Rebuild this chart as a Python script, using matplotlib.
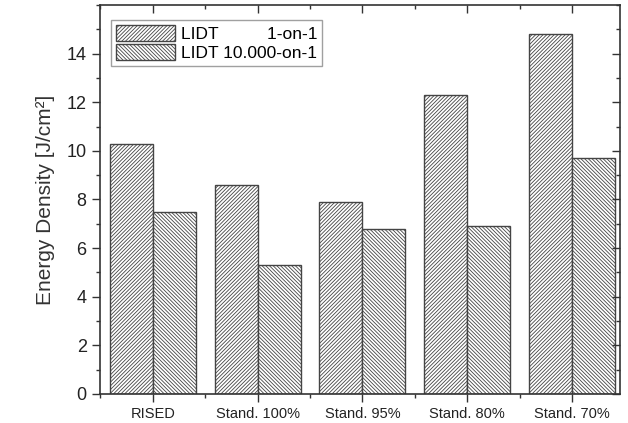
import numpy as np
import matplotlib
matplotlib.use('Agg')
import matplotlib.pyplot as plt
from matplotlib.ticker import MultipleLocator

plt.rcParams['font.family'] = ['Liberation Sans', 'DejaVu Sans']
plt.rcParams['hatch.color'] = '#9a9a9a'
plt.rcParams['hatch.linewidth'] = 0.6

categories = ['RISED', 'Stand. 100%', 'Stand. 95%', 'Stand. 80%', 'Stand. 70%']
lidt_1on1 = [10.3, 8.6, 7.9, 12.3, 14.8]
lidt_10000on1 = [7.5, 5.3, 6.8, 6.9, 9.7]

fig = plt.figure(figsize=(6.28, 4.23), dpi=100)
ax = fig.add_axes([0.159, 0.069, 0.828, 0.919])

x = np.arange(len(categories))
w = 0.41
edge = '#444444'
ax.bar(x - w / 2, lidt_1on1, w, color='white', edgecolor=edge, hatch='/' * 9,
       linewidth=1.0, label='LIDT          1-on-1')
ax.bar(x + w / 2, lidt_10000on1, w, color='white', edgecolor=edge, hatch='\\' * 9,
       linewidth=1.0, label='LIDT 10.000-on-1')

ax.set_xlim(-0.505, 4.455)
ax.set_ylim(0, 16)
ax.set_xticks(x)
ax.set_xticklabels(categories, fontsize=10.5, color='#222222')
ax.set_yticks(np.arange(0, 15, 2))
ax.xaxis.set_minor_locator(MultipleLocator(0.5))
ax.yaxis.set_minor_locator(MultipleLocator(1))
ax.tick_params(axis='y', labelsize=13, labelcolor='#222222')
ax.tick_params(which='major', direction='out', length=6, width=1, color='#333333')
ax.tick_params(which='minor', direction='out', length=3, width=1, color='#333333')
ax.tick_params(which='both', top=True, right=True, labeltop=False, labelright=False)
# top and right ticks point inward
for t in ax.xaxis.get_major_ticks() + ax.xaxis.get_minor_ticks():
    t.tick2line.set_marker(3)
for t in ax.yaxis.get_major_ticks() + ax.yaxis.get_minor_ticks():
    t.tick2line.set_marker(0)

for s in ax.spines.values():
    s.set_color('#333333')
    s.set_linewidth(1.2)

ax.set_ylabel('Energy Density [J/cm²]', fontsize=15, color='#333333', labelpad=8)

leg = ax.legend(loc='upper left', fontsize=12.5, frameon=True, fancybox=False,
                handlelength=3.4, handleheight=1.1, borderpad=0.3,
                labelspacing=0.1, handletextpad=0.3,
                bbox_to_anchor=(0.005, 0.985))
leg.get_frame().set_edgecolor('#888888')
leg.get_frame().set_linewidth(1.0)

fig.savefig('out.png', dpi=100)
